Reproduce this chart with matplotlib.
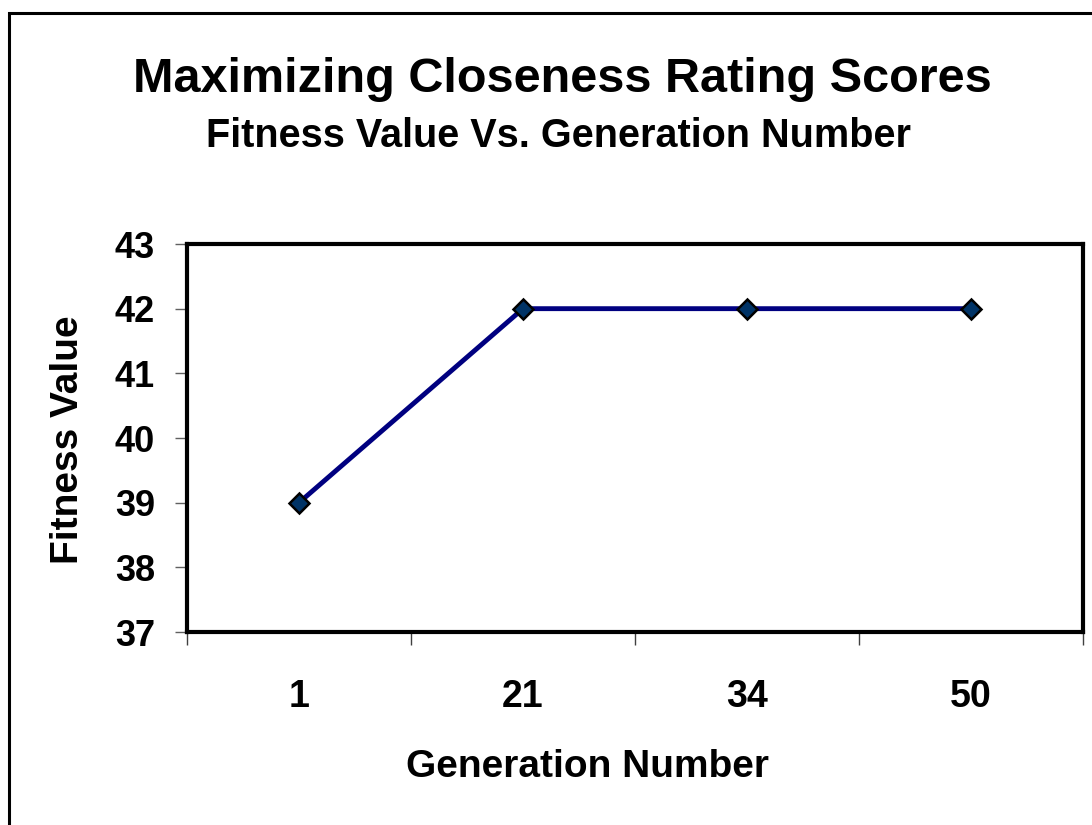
import matplotlib
matplotlib.use("Agg")
import matplotlib.pyplot as plt
from matplotlib.patches import Rectangle

# data
generations = ["1", "21", "34", "50"]
fitness = [39, 42, 42, 42]
y_ticks = [37, 38, 39, 40, 41, 42, 43]

plt.rcParams['font.family'] = ['Liberation Sans', 'DejaVu Sans']
plt.rcParams['font.weight'] = 'bold'

W, H = 1092, 825
fig = plt.figure(figsize=(W / 100, H / 100), dpi=100)
ax = fig.add_axes([187/W, 1 - 632/H, (1083-187)/W, (632-244)/H])

# outer chart border (runs off the right and bottom edges)
fig.patches.append(Rectangle((9/W, -0.05), 1.2, 1 - 13/H + 0.05,
                             transform=fig.transFigure, fill=False,
                             edgecolor='black', linewidth=2.2))

x = list(range(len(generations)))
ax.plot(x, fitness, color='#000080', linewidth=3.5, marker='D', markersize=10,
        markerfacecolor='#003366', markeredgecolor='black', markeredgewidth=1.8,
        zorder=3, clip_on=False)

ax.set_xlim(-0.5, len(generations) - 0.5)
ax.set_ylim(37, 43)
ax.set_yticks(y_ticks)
ax.set_yticklabels([str(v) for v in y_ticks], fontsize=26, fontweight='bold')
ax.set_xticks(x)
ax.set_xticklabels(generations, fontsize=27, fontweight='bold')
ax.set_xticks([i - 0.5 for i in range(len(generations) + 1)], minor=True)
ax.tick_params(axis='x', which='major', length=0, pad=34)
ax.tick_params(axis='x', which='minor', length=9, width=1, color='#404040', direction='out')
ax.tick_params(axis='y', length=9, width=1, color='#606060', direction='out', pad=14)

for s in ax.spines.values():
    s.set_linewidth(3)
    s.set_color('black')

# axis titles
fig.text(587/W, 1 - 777/H, "Generation Number", ha='center', va='baseline',
         fontsize=28, fontweight='bold')
fig.text(68/W, 1 - 440/H, "Fitness Value", ha='center', va='center',
         rotation=90, fontsize=28, fontweight='bold')

# chart titles
fig.text(562/W, 1 - 92/H, "Maximizing Closeness Rating Scores",
         ha='center', va='baseline', fontsize=35, fontweight='bold')
fig.text(558/W, 1 - 147/H, "Fitness Value Vs. Generation Number",
         ha='center', va='baseline', fontsize=28.5, fontweight='bold')

fig.savefig("out.png", dpi=100)
